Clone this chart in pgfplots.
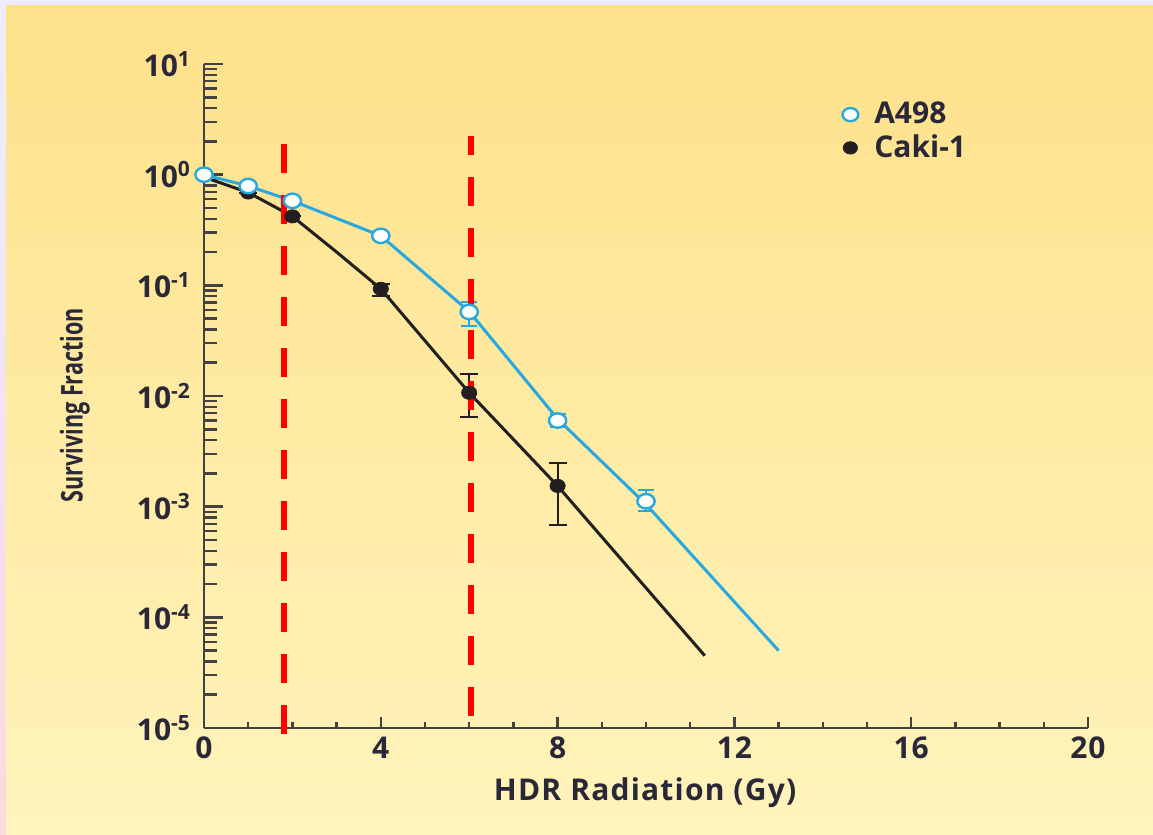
\documentclass[border=0pt]{standalone}
\usepackage{pgfplots}
\usepackage{pgfplotstable}
\pgfplotsset{compat=1.18}
\usepackage{fontspec}
\setmainfont{Open Sans}

\definecolor{bluec}{HTML}{29A8E0}
\definecolor{inkc}{HTML}{231F20}
\definecolor{txtc}{HTML}{2A2838}
\definecolor{lav}{HTML}{EEECFE}
\definecolor{pinkc}{HTML}{FCD9DC}
\definecolor{ytop}{HTML}{FEE18A}
\definecolor{ybot}{HTML}{FFF4BC}
\definecolor{redc}{HTML}{FF0000}

% A498: dose, surviving fraction, error +, error -
\pgfplotstableread{
x y ep em
0 1.0 0 0
1 0.79 0 0
2 0.58 0 0
4 0.28 0 0
6 0.0575 0.0133 0.0145
8 0.0060 0.0009 0.0007
10 0.00112 0.0003 0.0002
}\aFour

% Caki-1
\pgfplotstableread{
x y ep em
1 0.69 0 0
2 0.42 0 0
4 0.093 0.010 0.013
6 0.0107 0.0052 0.0042
8 0.00154 0.00096 0.00085
}\caki

\begin{document}
\begin{tikzpicture}
% background panel
\fill[lav] (0,0) rectangle (576.5pt,417.5pt);
\shade[top color=lav, bottom color=pinkc] (0,0) rectangle (3pt,414.5pt);
\shade[top color=ytop, bottom color=ybot] (3pt,0) rectangle (576.5pt,414.5pt);

% x axis only (own tick lengths)
\begin{axis}[
  at={(102pt,53.5pt)}, anchor=south west,
  scale only axis, width=442pt, height=332pt,
  xmin=0, xmax=20, ymin=0, ymax=1,
  axis x line*=bottom, axis y line=none,
  xtick={0,4,...,20}, minor x tick num=3,
  xticklabels={0,4,8,12,16,20},
  tick align=inside,
  major tick length=5.5pt, minor tick length=3pt,
  axis line style={line width=1.4pt, inkc!85},
  every tick/.style={line width=1.2pt, inkc!85},
  xticklabel style={font=\fontsize{15}{17}\selectfont\bfseries\addfontfeatures{LetterSpace=3}, text=txtc, yshift=-1pt},
  xlabel={HDR Radiation (Gy)},
  xlabel style={font=\fontsize{15}{17}\selectfont\bfseries\addfontfeatures{LetterSpace=4}, text=txtc,
    at={(axis description cs:0.499,-0.097)}, anchor=center},
]
\end{axis}

\begin{axis}[
  at={(102pt,53.5pt)}, anchor=south west,
  scale only axis, width=442pt, height=332pt,
  ymode=log, xmin=0, xmax=20, ymin=1e-5, ymax=10,
  axis x line*=bottom, axis y line*=left,
  xtick=\empty,
  ytick={1e-5,1e-4,1e-3,1e-2,1e-1,1,10},
  yticklabels={10\textsuperscript{-5},10\textsuperscript{-4},10\textsuperscript{-3},
    10\textsuperscript{-2},10\textsuperscript{-1},10\textsuperscript{0},10\textsuperscript{1}},
  tick align=inside,
  major tick length=9.5pt, minor tick length=6.5pt,
  axis line style={line width=1.4pt, inkc!85},
  every tick/.style={line width=1.2pt, inkc!85},
  yticklabel style={font=\fontsize{15}{17}\selectfont\bfseries, text=txtc, xshift=-3pt},
  ylabel={\scalebox{0.72}[1]{Surviving Fraction}},
  ylabel style={font=\fontsize{15}{17}\selectfont\bfseries, text=txtc,
    at={(axis description cs:-0.146,0.486)}, anchor=center},
  clip=false,
  legend style={draw=none, fill=none, font=\fontsize{15}{17}\selectfont\bfseries,
    text=txtc, at={(axis description cs:0.715,0.955)}, anchor=north west,
    row sep=0pt, legend cell align=left},
]
% fitted curves
\addplot[bluec, line width=1.5pt, forget plot] coordinates {
  (0,1.0) (1,0.79) (2,0.58) (4,0.28) (6,0.058) (8,0.0062) (10,0.00105) (13,5e-5)};
\addplot[inkc, line width=1.5pt, forget plot] coordinates {
  (0.1,0.92) (1,0.69) (2,0.42) (3,0.2) (4,0.093) (6,0.0107) (8,0.00154) (11.33,4.5e-5)};

% Caki-1 points
\addplot[forget plot, only marks, mark=*, mark size=3.3pt, inkc,
  mark options={xscale=1.15, fill=inkc},
  error bars/.cd, y dir=both, y explicit,
  error bar style={line width=1pt, inkc},
  error mark options={rotate=90, mark size=4.5pt, line width=1pt, inkc}]
  table[x=x, y=y, y error plus=ep, y error minus=em] {\caki};

% A498 points
\addplot[forget plot, only marks, mark=*, mark size=3.6pt, bluec,
  mark options={xscale=1.2, fill=white, draw=bluec, line width=1.2pt},
  error bars/.cd, y dir=both, y explicit,
  error bar style={line width=1pt, bluec},
  error mark options={rotate=90, mark size=4pt, line width=1pt, bluec}]
  table[x=x, y=y, y error plus=ep, y error minus=em] {\aFour};

% dose markers
\addplot[redc, line width=3pt, dash pattern=on 14.5pt off 11pt, forget plot]
  coordinates {(1.81,1.9) (1.81,8.7e-6)};
\addplot[redc, line width=3pt, dash pattern=on 14.5pt off 11pt, dash phase=5pt, forget plot]
  coordinates {(6.04,2.25) (6.04,1.2e-5)};

\addlegendimage{only marks, mark=*, mark size=3.3pt, mark options={xscale=1.2, fill=white, draw=bluec, line width=1.2pt}}
\addlegendentry{\hspace{6pt}A498}
\addlegendimage{only marks, mark=*, mark size=3.1pt, mark options={xscale=1.15, fill=inkc, draw=inkc}}
\addlegendentry{\hspace{6pt}Caki-1}
\end{axis}
\pgfresetboundingbox
\useasboundingbox (0,0) rectangle (576.5pt,417.5pt);
\end{tikzpicture}
\end{document}
